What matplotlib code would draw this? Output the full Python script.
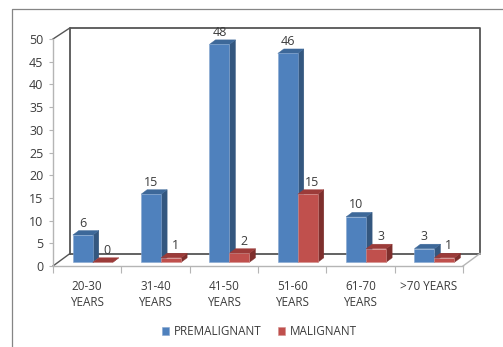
import matplotlib
matplotlib.use("Agg")
import matplotlib.pyplot as plt
from matplotlib.patches import Polygon, Patch

categories = ["20-30\nYEARS", "31-40\nYEARS", "41-50\nYEARS", "51-60\nYEARS", "61-70\nYEARS", ">70 YEARS"]
premalignant = [6, 15, 48, 46, 10, 3]
malignant = [0, 1, 2, 15, 3, 1]

W, H = 503, 347
LEFT, RIGHT, TOP, BOTTOM = 53, 463, 39, 266  # front plane of the 3D box, in pixels
FONT = "Open Sans"
TEXT = "#3c3c3c"

fig = plt.figure(figsize=(W / 100, H / 100), dpi=100, facecolor="white")
ax = fig.add_axes([LEFT / W, 1 - BOTTOM / H, (RIGHT - LEFT) / W, (BOTTOM - TOP) / H])
ax.set_xlim(0, 6)
ax.set_ylim(0, 50)
ax.patch.set_visible(False)

ux = (RIGHT - LEFT) / 6   # pixels per category
uy = (BOTTOM - TOP) / 50  # pixels per value unit
dx_box, dy_box = 17 / ux, 12.5 / uy    # oblique depth of the box
dx_bar, dy_bar = 6 / ux, 4.5 / uy      # oblique depth of a bar
floor_lift = 3.7 / uy
bar_w = 20 / ux
bar_start = 19.8 / ux


def line(xs, ys, color, lw):
    ax.plot(xs, ys, color=color, lw=lw, clip_on=False, solid_capstyle="projecting", zorder=1)


# back wall and the oblique edges of the box
dark = "#555555"
light = "#b5b5b5"
line([dx_box, dx_box, 6 + dx_box, 6 + dx_box, dx_box],
     [dy_box, 50 + dy_box - 0.3, 50 + dy_box - 0.3, dy_box, dy_box], dark, 1.3)
line([0, dx_box], [50, 50 + dy_box - 0.3], dark, 1.0)
line([0, dx_box], [0, dy_box], dark, 1.0)
line([6, 6 + dx_box], [0, dy_box], light, 1.0)


def bar(x, value, front, side, top, halo):
    y0, y1 = floor_lift, floor_lift + value
    x1 = x + bar_w
    ax.add_patch(Polygon([(x1, y0), (x1 + dx_bar, y0 + dy_bar), (x1 + dx_bar, y1 + dy_bar), (x1, y1)],
                         fc=side, ec=side, lw=0.3, clip_on=False, zorder=3))
    ax.add_patch(Polygon([(x, y1), (x1, y1), (x1 + dx_bar, y1 + dy_bar), (x + dx_bar, y1 + dy_bar)],
                         fc=top, ec=top, lw=0.3, clip_on=False, zorder=3))
    if value > 0:
        ax.bar(x, value, width=bar_w, bottom=y0, align="edge", color=front,
               edgecolor=halo, linewidth=0.4, clip_on=False, zorder=3)


for i, (p, m) in enumerate(zip(premalignant, malignant)):
    x = i + bar_start
    bar(x, p, "#4F81BD", "#34577F", "#3D6899", "#86A7D0")
    bar(x + bar_w, m, "#C0504D", "#7E2F2D", "#9C3B39", "#D48F8C")
    ax.annotate(str(p), (x + bar_w / 2, floor_lift + p), xytext=(0, 12), textcoords="offset pixels",
                ha="center", va="center", fontsize=9, family=FONT, color=TEXT, zorder=5)
    ax.annotate(str(m), (x + 1.5 * bar_w, floor_lift + m), xytext=(4.5, 12), textcoords="offset pixels",
                ha="center", va="center", fontsize=9, family=FONT, color=TEXT, zorder=5)

# front axes
for s in ("top", "right"):
    ax.spines[s].set_visible(False)
for s in ("left", "bottom"):
    ax.spines[s].set_color(light)
    ax.spines[s].set_linewidth(1.0)
    ax.spines[s].set_zorder(2)

ax.set_yticks(range(0, 51, 5))
ax.tick_params(axis="y", length=3, width=0.8, color=light, labelsize=9, labelcolor=TEXT, pad=4)
ax.set_xticks(range(0, 7))
ax.set_xticks([i + 0.5 for i in range(6)], labels=categories, minor=True)
ax.tick_params(axis="x", which="major", length=5, width=0.8, color=light, labelbottom=False)
ax.tick_params(axis="x", which="minor", length=0, labelsize=8.5, labelcolor=TEXT, pad=10)
for lab in ax.get_xticklabels(minor=True):
    lab.set_linespacing(1.36)
    lab.set_fontfamily(FONT)
for lab in ax.get_yticklabels():
    lab.set_fontfamily(FONT)

# legend
handles = [Patch(fc="#4F81BD", ec="#86A7D0", lw=0.4, label="PREMALIGNANT"),
           Patch(fc="#C0504D", ec="#D48F8C", lw=0.4, label="MALIGNANT")]
fig.legend(handles=handles, ncols=2, loc="center", bbox_to_anchor=(259.5 / W, 1 - 331.5 / H),
           frameon=False, handlelength=0.6, handleheight=0.6, handletextpad=0.43, columnspacing=1.45,
           labelcolor=TEXT, prop={"family": FONT, "size": 8.4}, borderpad=0)

# outer chart frame
frame = "#858585"
fig.add_artist(plt.Line2D([11.5 / W, 11.5 / W, 1], [0, 1 - 8.5 / H, 1 - 8.5 / H], color=frame, lw=0.9))

fig.savefig("out.png", dpi=100)
